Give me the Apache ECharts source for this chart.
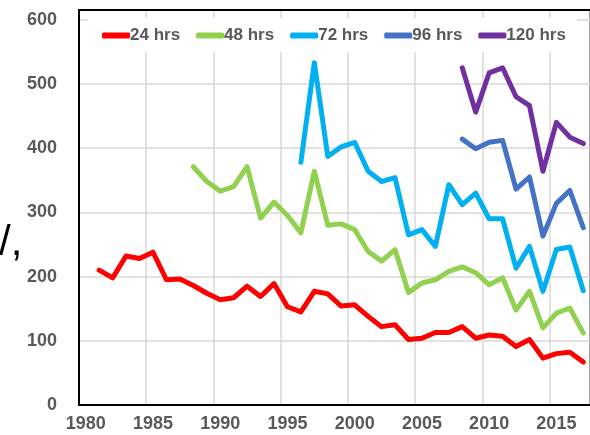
<!DOCTYPE html>
<html>
<head>
<meta charset="utf-8">
<script src="https://cdn.jsdelivr.net/npm/echarts@6/dist/echarts.min.js"></script>
<style>
html,body{margin:0;padding:0;background:#fff;}
#chart{width:590px;height:435px;}
</style>
</head>
<body>
<div id="chart"></div>
<script>
var years = [];
for (var y = 1980; y <= 2017; y++) years.push(String(y));

var seriesNames = ['24 hrs', '48 hrs', '72 hrs', '96 hrs', '120 hrs'];
var colors = ['#FF0000', '#92D050', '#00B0F0', '#4472C4', '#7030A0'];

// 24 hrs: 1981-2017
var hrs24 = [null,
  210, 198, 232, 228, 238, 195, 196, 186, 174, 164,
  167, 185, 169, 189, 153, 145, 177, 173, 154, 156,
  138, 122, 125, 102, 104, 113, 113, 122, 104, 109,
  107, 91, 102, 73, 80, 82, 67];
// 48 hrs: 1988-2017
var hrs48 = [null, null, null, null, null, null, null, null,
  371, 348, 333, 340, 371, 291, 316, 295, 268, 364, 280, 282,
  273, 239, 224, 242, 175, 190, 195, 208, 215, 206, 187, 198,
  148, 177, 120, 143, 151, 112];
// 72 hrs: 1996-2017
var hrs72 = [null, null, null, null, null, null, null, null, null, null,
  null, null, null, null, null, null,
  378, 533, 387, 402, 409, 364, 348, 354, 265, 273, 247, 343,
  312, 330, 290, 290, 213, 247, 177, 242, 246, 178];
// 96 hrs: 2008-2017
var hrs96 = [null, null, null, null, null, null, null, null, null, null,
  null, null, null, null, null, null, null, null, null, null,
  null, null, null, null, null, null, null, null,
  414, 399, 409, 412, 336, 355, 263, 314, 334, 276];
// 120 hrs: 2008-2017
var hrs120 = [null, null, null, null, null, null, null, null, null, null,
  null, null, null, null, null, null, null, null, null, null,
  null, null, null, null, null, null, null, null,
  525, 456, 517, 525, 480, 466, 364, 440, 417, 407];

var allData = [hrs24, hrs48, hrs72, hrs96, hrs120];

var FONT = '"Liberation Sans", Arial, sans-serif';
var chart = echarts.init(document.getElementById('chart'), null, {renderer: 'canvas'});

var series = seriesNames.map(function (n, i) {
  return {
    name: n,
    type: 'line',
    data: allData[i],
    symbol: 'none',
    showSymbol: false,
    smooth: false,
    lineStyle: {width: 5, color: colors[i], cap: 'round', join: 'round'},
    itemStyle: {color: colors[i]},
    emphasis: {disabled: true},
    animation: false
  };
});

chart.setOption({
  animation: false,
  grid: {
    left: 79, top: 10, width: 513, height: 395,
    show: true, borderColor: '#000', borderWidth: 2, backgroundColor: 'rgba(255,255,255,0)'
  },
  legend: {
    data: seriesNames,
    left: 88, top: 18,
    padding: [9, 11, 8, 14],
    backgroundColor: '#fff',
    itemGap: 16,
    itemWidth: 28, itemHeight: 6,
    icon: 'roundRect',
    textStyle: {color: '#595959', fontSize: 17, fontWeight: 'bold', fontFamily: FONT, padding: [0, 0, 0, -5]}
  },
  xAxis: [{
    type: 'category',
    data: years,
    boundaryGap: true,
    axisLine: {show: true, lineStyle: {color: '#000', width: 2}},
    axisTick: {show: false},
    axisLabel: {interval: 4, color: '#595959', fontSize: 18, fontWeight: 'bold', fontFamily: FONT, margin: 10},
    splitLine: {show: true, interval: 4, lineStyle: {color: '#D9D9D9', width: 1.5}}
  }],
  yAxis: {
    type: 'value',
    min: 0, max: 615, interval: 100,
    axisLine: {show: true, lineStyle: {color: '#000', width: 2}},
    axisTick: {show: false},
    axisLabel: {color: '#595959', fontSize: 18, fontWeight: 'bold', fontFamily: FONT, margin: 22, showMaxLabel: false},
    splitLine: {show: true, showMaxLine: false, lineStyle: {color: '#D9D9D9', width: 1.5}}
  },
  graphic: [{
    type: 'text',
    left: -1, top: 222,
    style: {text: '/,', font: '42px "Liberation Sans", Arial, sans-serif', fill: '#000'}
  }, {
    type: 'rect',
    z: 100,
    shape: {x: 78, y: 9, width: 520, height: 2},
    style: {fill: '#000'}
  }],
  series: series
});
</script>
</body>
</html>
